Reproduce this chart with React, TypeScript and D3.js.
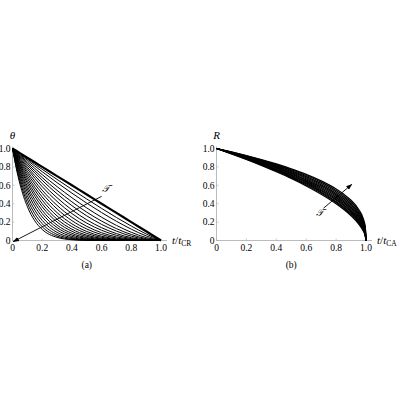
import React from 'react';
import * as d3 from 'd3';

// panel (a): theta vs t/t_CR, one row per curve, sampled at tA
const tA = [0, 0.025, 0.05, 0.1, 0.15, 0.2, 0.3, 0.4, 0.5, 0.6, 0.7, 0.8, 0.9, 1.0];
const thetaCurves: number[][] = [
	[1, 0.975, 0.95, 0.9, 0.85, 0.8, 0.7, 0.6, 0.5, 0.4, 0.3, 0.2, 0.1, 0],
	[1, 0.971, 0.943, 0.886, 0.83, 0.774, 0.664, 0.556, 0.451, 0.349, 0.25, 0.157, 0.071, 0],
	[1, 0.968, 0.935, 0.872, 0.81, 0.748, 0.629, 0.515, 0.406, 0.304, 0.209, 0.123, 0.05, 0],
	[1, 0.963, 0.926, 0.854, 0.784, 0.716, 0.586, 0.465, 0.354, 0.253, 0.164, 0.089, 0.032, 0],
	[1, 0.958, 0.917, 0.836, 0.759, 0.684, 0.545, 0.42, 0.308, 0.211, 0.129, 0.065, 0.02, 0],
	[1, 0.953, 0.907, 0.819, 0.734, 0.654, 0.508, 0.379, 0.268, 0.175, 0.102, 0.047, 0.013, 0],
	[1, 0.947, 0.896, 0.797, 0.705, 0.619, 0.465, 0.333, 0.225, 0.139, 0.075, 0.031, 0.007, 0],
	[1, 0.941, 0.884, 0.777, 0.677, 0.585, 0.425, 0.293, 0.189, 0.111, 0.056, 0.021, 0.004, 0],
	[1, 0.934, 0.871, 0.752, 0.645, 0.547, 0.382, 0.252, 0.154, 0.084, 0.039, 0.013, 0.002, 0],
	[1, 0.927, 0.857, 0.729, 0.614, 0.512, 0.343, 0.216, 0.125, 0.064, 0.027, 0.008, 0.001, 0],
	[1, 0.919, 0.842, 0.703, 0.58, 0.474, 0.303, 0.181, 0.098, 0.046, 0.018, 0.005, 0.0, 0],
	[1, 0.911, 0.827, 0.677, 0.548, 0.438, 0.267, 0.151, 0.077, 0.034, 0.012, 0.003, 0, 0],
	[1, 0.901, 0.81, 0.649, 0.514, 0.401, 0.232, 0.123, 0.058, 0.023, 0.007, 0.001, 0, 0],
	[1, 0.892, 0.794, 0.622, 0.481, 0.366, 0.201, 0.1, 0.044, 0.016, 0.004, 0.001, 0, 0],
	[1, 0.881, 0.774, 0.59, 0.444, 0.328, 0.168, 0.078, 0.031, 0.01, 0.002, 0, 0, 0],
	[1, 0.87, 0.754, 0.56, 0.409, 0.293, 0.141, 0.06, 0.022, 0.006, 0.001, 0, 0, 0],
	[1, 0.857, 0.731, 0.526, 0.371, 0.256, 0.114, 0.044, 0.015, 0.004, 0.001, 0, 0, 0],
	[1, 0.842, 0.706, 0.488, 0.331, 0.219, 0.088, 0.031, 0.009, 0.002, 0, 0, 0, 0],
	[1, 0.825, 0.677, 0.449, 0.291, 0.183, 0.066, 0.021, 0.005, 0.001, 0, 0, 0, 0],
	[1, 0.806, 0.647, 0.408, 0.251, 0.15, 0.048, 0.013, 0.003, 0, 0, 0, 0, 0],
	[1, 0.786, 0.614, 0.368, 0.214, 0.12, 0.034, 0.008, 0.001, 0, 0, 0, 0, 0],
];

// panel (b): R vs t/t_CA
const tB = [0, 0.1, 0.2, 0.3, 0.4, 0.5, 0.6, 0.7, 0.8, 0.85, 0.9, 0.95, 0.98, 0.995, 1.0];
const radiusCurves: number[][] = [
	[1, 0.963, 0.923, 0.88, 0.832, 0.779, 0.719, 0.648, 0.56, 0.505, 0.437, 0.34, 0.245, 0.149, 0],
	[1, 0.961, 0.919, 0.874, 0.824, 0.769, 0.707, 0.634, 0.543, 0.487, 0.418, 0.321, 0.227, 0.134, 0],
	[1, 0.959, 0.915, 0.868, 0.816, 0.759, 0.694, 0.619, 0.527, 0.47, 0.4, 0.304, 0.211, 0.121, 0],
	[1, 0.957, 0.911, 0.862, 0.808, 0.749, 0.682, 0.605, 0.511, 0.453, 0.383, 0.287, 0.196, 0.11, 0],
	[1, 0.955, 0.907, 0.856, 0.8, 0.739, 0.671, 0.592, 0.496, 0.437, 0.366, 0.271, 0.182, 0.099, 0],
	[1, 0.953, 0.903, 0.85, 0.793, 0.73, 0.659, 0.578, 0.481, 0.422, 0.351, 0.256, 0.169, 0.09, 0],
	[1, 0.951, 0.9, 0.845, 0.785, 0.72, 0.648, 0.565, 0.466, 0.407, 0.336, 0.242, 0.157, 0.081, 0],
	[1, 0.949, 0.896, 0.839, 0.777, 0.711, 0.637, 0.552, 0.452, 0.392, 0.321, 0.228, 0.145, 0.073, 0],
	[1, 0.947, 0.892, 0.833, 0.77, 0.701, 0.626, 0.54, 0.439, 0.379, 0.308, 0.216, 0.135, 0.066, 0],
	[1, 0.946, 0.888, 0.827, 0.762, 0.692, 0.615, 0.528, 0.425, 0.365, 0.294, 0.204, 0.125, 0.06, 0],
	[1, 0.944, 0.885, 0.822, 0.755, 0.683, 0.604, 0.516, 0.413, 0.352, 0.282, 0.192, 0.116, 0.054, 0],
	[1, 0.942, 0.881, 0.816, 0.747, 0.674, 0.593, 0.503, 0.4, 0.339, 0.269, 0.181, 0.108, 0.049, 0],
];

const ticks = [0, 0.2, 0.4, 0.6, 0.8, 1.0];
const tickLabels = ['0', '0.2', '0.4', '0.6', '0.8', '1.0'];

const serif = "'Liberation Serif', 'DejaVu Serif', serif";

interface PanelProps {
	x0: number;
	x1: number;
	times: number[];
	curves: number[][];
	yName: string;
	sub: string;
	caption: string;
	arrowFrom: [number, number];
	arrowTo: [number, number];
	tauAt: [number, number];
	thickFirst: boolean;
	lineWidth: number;
	markerId: string;
}

const Panel: React.FC<PanelProps> = ({ x0, x1, times, curves, yName, sub, caption, arrowFrom, arrowTo, tauAt, thickFirst, lineWidth, markerId }) => {
	const x = d3.scaleLinear().domain([0, 1]).range([x0, x1]);
	const y = d3.scaleLinear().domain([0, 1]).range([240.5, 148.5]);
	const line = d3
		.line<number>()
		.x((d, i) => x(times[i]))
		.y((d) => y(d))
		.curve(d3.curveMonotoneX);

	return (
		<g>
			<defs>
				<marker id={markerId} viewBox="0 0 10 10" refX="9" refY="5" markerWidth="7" markerHeight="7" orient="auto">
					<path d="M0,1.5 L10,5 L0,8.5 z" fill="#000" />
				</marker>
			</defs>
			{/* axes */}
			<line x1={x(0)} x2={x(1) + 6} y1={y(0)} y2={y(0)} stroke="#aaa" strokeWidth={0.8} />
			<line x1={x(0)} x2={x(0)} y1={y(0)} y2={y(1) - 2} stroke="#aaa" strokeWidth={0.8} />
			{ticks.map((t, i) => (
				<g key={'t' + i}>
					<line x1={x(t)} x2={x(t)} y1={y(0)} y2={y(0) - 2} stroke="#aaa" strokeWidth={0.6} />
					<line x1={x(0)} x2={x(0) + 2} y1={y(t)} y2={y(t)} stroke="#aaa" strokeWidth={0.6} />
					<text x={x(t)} y={y(0) + 10} textAnchor="middle" fontSize={9.5} fontFamily={serif}>
						{tickLabels[i]}
					</text>
					<text x={x(0) - 2} y={y(t) + 3.2} textAnchor="end" fontSize={9.5} fontFamily={serif}>
						{tickLabels[i]}
					</text>
				</g>
			))}
			{/* curves */}
			{curves.map((c, i) => (
				<path
					key={'c' + i}
					d={line(c) || ''}
					fill="none"
					stroke="#000"
					strokeWidth={thickFirst && i === 0 ? 2.2 : lineWidth}
				/>
			))}
			{/* tau arrow */}
			<line
				x1={x(arrowFrom[0])}
				y1={y(arrowFrom[1])}
				x2={x(arrowTo[0])}
				y2={y(arrowTo[1])}
				stroke="#000"
				strokeWidth={0.9}
				markerEnd={`url(#${markerId})`}
			/>
			<text x={x(tauAt[0])} y={y(tauAt[1]) + 3.5} textAnchor="middle" fontSize={10} fontStyle="italic" fontFamily={serif}>
				𝒯
			</text>
			{/* labels */}
			<text x={x(0)} y={y(1) - 10} textAnchor="middle" fontSize={11} fontStyle="italic" fontFamily={serif}>
				{yName}
			</text>
			<text x={x(1) + 11} y={y(0) + 3} fontSize={11} fontFamily={serif}>
				<tspan fontStyle="italic">t</tspan>
				<tspan>/</tspan>
				<tspan fontStyle="italic">t</tspan>
				<tspan fontSize={7.5} dy={2}>
					{sub}
				</tspan>
			</text>
			<text x={(x(0) + x(1)) / 2} y={y(0) + 27} textAnchor="middle" fontSize={9.5} fontFamily={serif}>
				{caption}
			</text>
		</g>
	);
};

const App: React.FC = () => {
	return (
		<svg width={400} height={400} style={{ position: 'absolute', left: 0, top: 0, background: '#fff' }}>
			<Panel
				x0={12.5}
				x1={161}
				times={tA}
				curves={thetaCurves}
				yName="θ"
				sub="CR"
				caption="(a)"
				arrowFrom={[0.6, 0.48]}
				arrowTo={[0.005, -0.012]}
				tauAt={[0.63, 0.57]}
				thickFirst={true}
				lineWidth={1}
				markerId="arrA"
			/>
			<Panel
				x0={216.5}
				x1={366}
				times={tB}
				curves={radiusCurves}
				yName="R"
				sub="CA"
				caption="(b)"
				arrowFrom={[0.715, 0.35]}
				arrowTo={[0.905, 0.61]}
				tauAt={[0.692, 0.3]}
				thickFirst={false}
				lineWidth={1.25}
				markerId="arrB"
			/>
		</svg>
	);
};

export default App;
